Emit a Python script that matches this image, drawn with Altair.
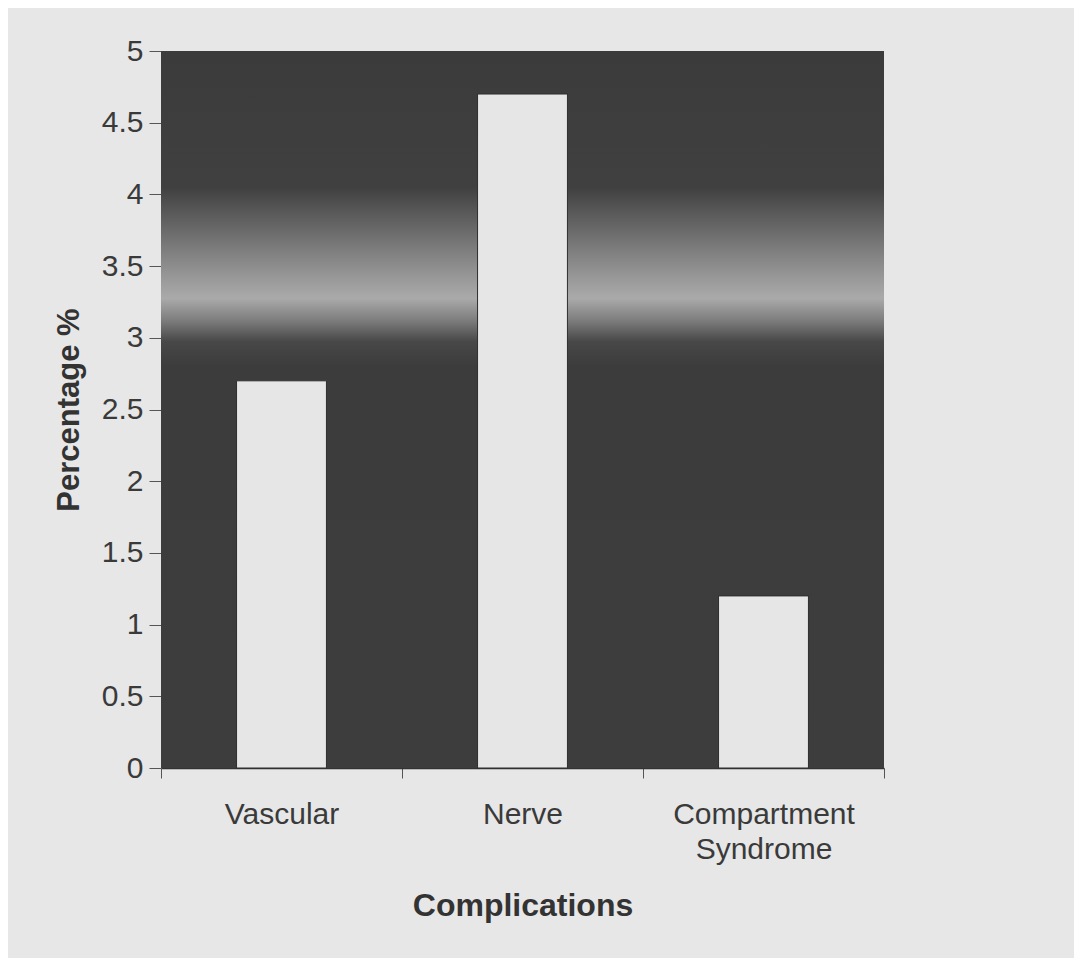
import altair as alt
import pandas as pd

categories = ["Vascular", "Nerve", "Compartment Syndrome"]
percentages = [2.7, 4.7, 1.2]
y_ticks = [0, 0.5, 1, 1.5, 2, 2.5, 3, 3.5, 4, 4.5, 5]

df = pd.DataFrame({"Complication": categories, "Percentage": percentages})

FONT = "Liberation Sans"
TEXT = "#3a3a3a"

gradient = alt.LinearGradient(
    gradient="linear",
    x1=0, x2=0, y1=0, y2=1,
    stops=[
        alt.GradientStop(offset=0.0, color="#3b3b3b"),
        alt.GradientStop(offset=0.19, color="#404040"),
        alt.GradientStop(offset=0.25, color="#6a6a6a"),
        alt.GradientStop(offset=0.31, color="#949494"),
        alt.GradientStop(offset=0.345, color="#aaaaaa"),
        alt.GradientStop(offset=0.375, color="#7e7e7e"),
        alt.GradientStop(offset=0.405, color="#484848"),
        alt.GradientStop(offset=0.44, color="#3c3c3c"),
        alt.GradientStop(offset=1.0, color="#3d3d3d"),
    ],
)

background = (
    alt.Chart(pd.DataFrame({"bg": [1]}))
    .mark_rect(fill=gradient)
    .encode(
        x=alt.value(0),
        x2=alt.value("width"),
        y=alt.value(0),
        y2=alt.value("height"),
    )
)

bars = (
    alt.Chart(df)
    .mark_bar(
        fill="#e6e6e6",
        stroke="#2e2e2e",
        strokeWidth=1,
        width=alt.RelativeBandSize(band=0.373),
    )
    .encode(
        x=alt.X(
            "Complication:N",
            sort=categories,
            scale=alt.Scale(paddingInner=0, paddingOuter=0),
            axis=alt.Axis(
                title="Complications",
                labelAngle=0,
                labelLimit=0,
                tickBand="extent",
                tickSize=10,
                labelPadding=21,
                labelExpr="datum.label == 'Compartment Syndrome' ? ['Compartment', 'Syndrome'] : datum.label",
                labelLineHeight=35,
                titlePadding=26,
                titleFontSize=32,
            ),
        ),
        y=alt.Y(
            "Percentage:Q",
            scale=alt.Scale(domain=[0, 5], nice=False),
            axis=alt.Axis(
                title="Percentage %",
                values=y_ticks,
                format=".1~f",
                tickSize=12,
                labelPadding=6,
                titlePadding=16,
                titleFontSize=31,
                grid=False,
                domain=False,
            ),
        ),
    )
)

chart = (
    alt.layer(background, bars)
    .properties(
        width=723,
        height=717,
        autosize=alt.AutoSizeParams(type="none"),
        padding={"left": 153, "top": 43, "right": 190, "bottom": 190},
        background="#e7e7e7",
    )
    .configure_view(stroke=None)
    .configure_axis(
        labelFont=FONT,
        labelFontSize=30,
        labelColor=TEXT,
        titleFont=FONT,
        titleFontWeight="bold",
        titleColor="#333333",
        domainColor="#333333",
        tickColor="#555555",
        domainWidth=1.5,
        tickWidth=1,
    )
)

chart.save("out.html", embed_options={"renderer": "svg", "actions": False})
